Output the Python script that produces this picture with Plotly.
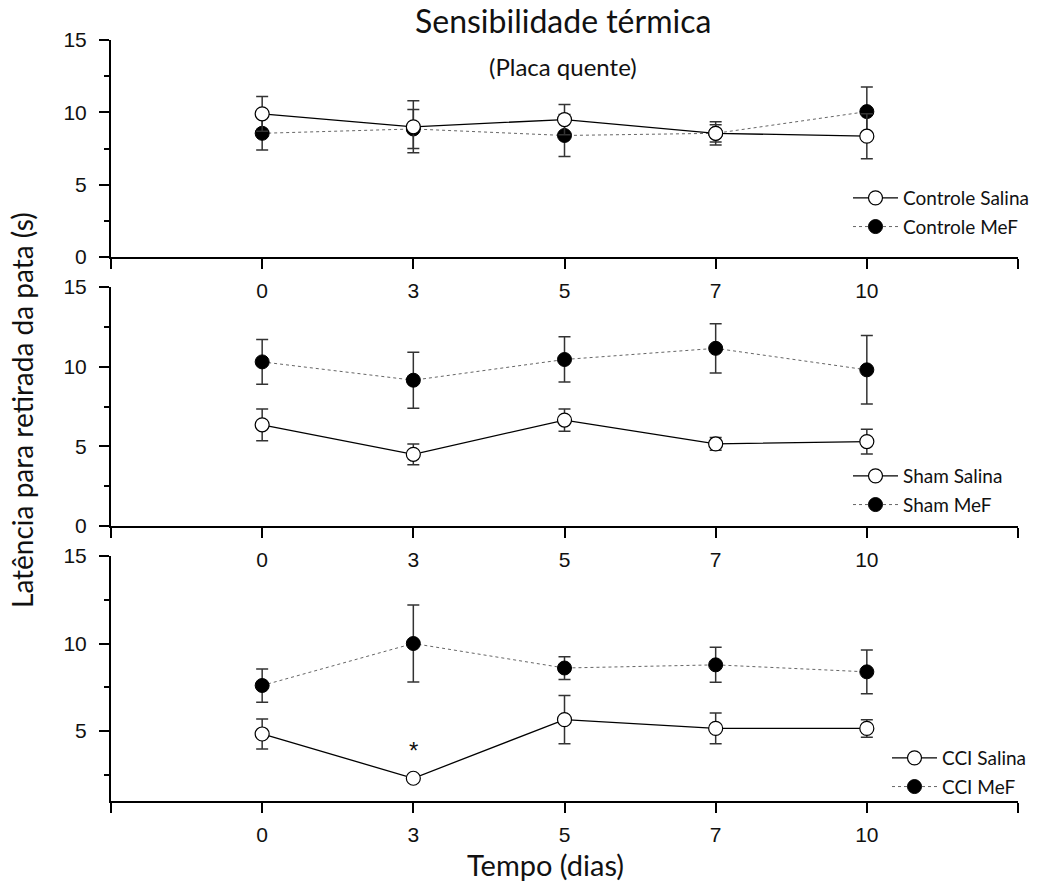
import plotly.graph_objects as go

days = ["0", "3", "5", "7", "10"]

ctrl_salina = [9.9, 9.0, 9.5, 8.55, 8.35]
ctrl_salina_err = [1.2, 1.8, 1.05, 0.6, 1.55]
ctrl_mef = [8.55, 8.85, 8.4, 8.55, 10.05]
ctrl_mef_err = [1.15, 1.35, 1.45, 0.8, 1.7]

sham_salina = [6.35, 4.5, 6.65, 5.15, 5.3]
sham_salina_err = [1.0, 0.65, 0.7, 0.4, 0.78]
sham_mef = [10.3, 9.15, 10.45, 11.15, 9.8]
sham_mef_err = [1.4, 1.76, 1.42, 1.55, 2.15]

cci_salina = [4.83, 2.3, 5.65, 5.15, 5.15]
cci_salina_err = [0.86, 0.2, 1.38, 0.88, 0.5]
cci_mef = [7.6, 10.0, 8.6, 8.78, 8.38]
cci_mef_err = [0.95, 2.2, 0.65, 1.0, 1.25]

panels = [
    ("Controle Salina", ctrl_salina, ctrl_salina_err, "Controle MeF", ctrl_mef, ctrl_mef_err, [0, 15]),
    ("Sham Salina", sham_salina, sham_salina_err, "Sham MeF", sham_mef, sham_mef_err, [0, 15]),
    ("CCI Salina", cci_salina, cci_salina_err, "CCI MeF", cci_mef, cci_mef_err, [1, 15]),
]

H = 885.0
W = 1040.0
# pixel extents of each panel (bottom, top)
panel_px = [(257, 40), (526, 287), (801, 556)]
x_left, x_right = 111, 1018

xpos = list(range(1, len(days) + 1))

fig = go.Figure()
legend_names = ["legend", "legend2", "legend3"]
legend_y_px = [179, 457, 739]
legend_x_px = [848, 848, 887]

TICKFONT = dict(family="Liberation Sans, Arial", size=21, color="#111")
LEGFONT = dict(family="Lato, Open Sans", size=19, color="#111")

for i, (n1, v1, e1, n2, v2, e2, yr) in enumerate(panels):
    ax = "" if i == 0 else str(i + 1)
    fig.add_trace(go.Scatter(
        x=xpos, y=v2, name=n2, mode="lines+markers",
        xaxis="x" + ax, yaxis="y" + ax, legend=legend_names[i],
        legendgroup="g%d_2" % i,
        line=dict(color="#666", width=1, dash="dot"),
        marker=dict(size=14, color="black", line=dict(color="black", width=1)),
        error_y=dict(type="data", array=e2, color="#333", thickness=1.5, width=6),
        legendrank=2,
    ))
    fig.add_trace(go.Scatter(
        x=xpos, y=v1, name=n1, mode="lines+markers",
        xaxis="x" + ax, yaxis="y" + ax, legend=legend_names[i],
        legendgroup="g%d_1" % i,
        line=dict(color="black", width=1.3),
        marker=dict(size=14, color="white", line=dict(color="black", width=1.2)),
        error_y=dict(type="data", array=e1, color="#333", thickness=1.5, width=6),
        legendrank=1,
    ))

layout = dict(
    width=1040, height=885,
    margin=dict(l=0, r=0, t=0, b=0, autoexpand=False),
    paper_bgcolor="white", plot_bgcolor="white",
    showlegend=True,
)

for i, (n1, v1, e1, n2, v2, e2, yr) in enumerate(panels):
    ax = "" if i == 0 else str(i + 1)
    b, t = panel_px[i]
    layout["xaxis" + ax] = dict(
        domain=[x_left / W, x_right / W], range=[0, 6],
        tickmode="array", tickvals=list(range(0, 7)),
        ticktext=[""] + days + [""],
        ticks="outside", ticklen=10, tickwidth=2, tickcolor="black",
        showline=True, linecolor="black", linewidth=2,
        showgrid=False, zeroline=False, tickfont=TICKFONT,
        anchor="y" + ax, ticklabelstandoff=4, automargin=False,
    )
    layout["yaxis" + ax] = dict(
        domain=[1 - b / H, 1 - t / H], range=yr,
        tickmode="array", tickvals=[v for v in [0, 5, 10, 15] if v >= yr[0]],
        ticks="outside", ticklen=10, tickwidth=2, tickcolor="black",
        minor=dict(tickvals=[2.5, 7.5, 12.5], ticks="outside", ticklen=5, tickwidth=2, tickcolor="black"),
        showline=True, linecolor="black", linewidth=2,
        showgrid=False, zeroline=False, tickfont=TICKFONT,
        anchor="x" + ax, ticklabelstandoff=8, automargin=False,
    )
    layout[legend_names[i]] = dict(
        x=legend_x_px[i] / W, y=1 - legend_y_px[i] / H,
        xanchor="left", yanchor="top",
        bgcolor="rgba(0,0,0,0)", borderwidth=0,
        font=LEGFONT, itemwidth=45, tracegroupgap=1,
    )

fig.update_layout(**layout)

annotations = [
    dict(text="Sensibilidade térmica", x=563 / W, y=1 - 21 / H, xref="paper", yref="paper",
         xanchor="center", yanchor="middle",
         showarrow=False, font=dict(family="Lato, Open Sans", size=32, color="#111")),
    dict(text="(Placa quente)", x=563 / W, y=1 - 66 / H, xref="paper", yref="paper",
         xanchor="center", yanchor="middle",
         showarrow=False, font=dict(family="Lato, Open Sans", size=24, color="#111")),
    dict(text="Tempo (dias)", x=545 / W, y=1 - 864 / H, xref="paper", yref="paper",
         xanchor="center", yanchor="middle",
         showarrow=False, font=dict(family="Lato, Open Sans", size=29, color="#111")),
    dict(text="Latência para retirada da pata (s)", x=22 / W, y=1 - 410 / H, xref="paper", yref="paper",
         xanchor="center", yanchor="middle",
         showarrow=False, textangle=-90, font=dict(family="Lato, Open Sans", size=28, color="#111")),
    dict(text="*", x=xpos[1], y=cci_salina[1] + 1.6, xref="x3", yref="y3",
         xanchor="center", yanchor="middle",
         showarrow=False, font=dict(family="Liberation Sans, Arial", size=24, color="#111")),
]
fig.update_layout(annotations=annotations)

fig.write_html("out.html")
